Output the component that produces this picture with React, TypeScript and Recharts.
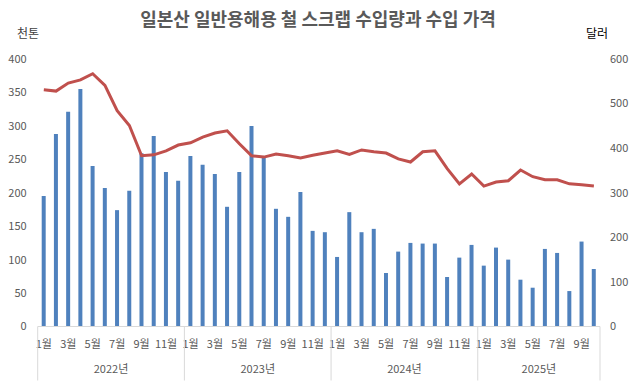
import { ComposedChart, Bar, Line, XAxis, YAxis } from 'recharts'

const years = [2022, 2023, 2024, 2025]
const monthsPerYear = [12, 12, 12, 10]

// 수입량 (천톤)
const volume = [
  195, 288, 321, 355, 240, 207, 174, 203, 259, 285, 231, 218,
  255, 242, 228, 179, 231, 300, 252, 176, 164, 201, 143, 141,
  104, 171, 141, 146, 80, 112, 125, 124, 124, 74, 103, 122,
  91, 118, 100, 70, 58, 116, 110, 53, 127, 86,
]

// 수입 가격 (달러)
const price = [
  531, 528, 546, 553, 567, 541, 484, 451, 383, 385, 394, 407,
  412, 425, 434, 439, 410, 383, 380, 387, 383, 378, 384, 389,
  394, 386, 396, 392, 389, 376, 369, 392, 394, 354, 320, 342,
  315, 324, 327, 351, 336, 329, 329, 320, 318, 315,
]

const leftTicks = [0, 50, 100, 150, 200, 250, 300, 350, 400]
const rightTicks = [0, 100, 200, 300, 400, 500, 600]

const data = years.flatMap((year, yi) =>
  Array.from({ length: monthsPerYear[yi] }, (_, m) => ({
    year,
    month: m + 1,
    yearLen: monthsPerYear[yi],
  }))
).map((d, i) => ({ ...d, key: `${d.year}-${d.month}`, volume: volume[i], price: price[i] }))

const FONT = '"Noto Sans CJK KR", "Noto Sans", sans-serif'
const GRAY = '#595959'
const LINE_GRAY = '#d9d9d9'
const PLOT_LEFT = 37.7
const PLOT_RIGHT = 600
const BAND = (PLOT_RIGHT - PLOT_LEFT) / data.length

function MonthTick(props: any) {
  const { x, y, payload } = props
  const i = payload.index ?? props.index
  const d = data[i]
  if (!d) return null
  const left = x - BAND / 2
  return (
    <g>
      {d.month % 2 === 1 && (
        <text x={x} y={y + 19} textAnchor="middle" dominantBaseline="middle"
          fontSize={11} fill={GRAY} fontFamily={FONT}>
          {d.month}월
        </text>
      )}
      {d.month === 1 && (
        <>
          <line x1={left} y1={y} x2={left} y2={y + 54} stroke={LINE_GRAY} />
          <text x={left + (d.yearLen * BAND) / 2} y={y + 44} textAnchor="middle"
            dominantBaseline="middle" fontSize={11} fill={GRAY} fontFamily={FONT}>
            {d.year}년
          </text>
        </>
      )}
      {i === data.length - 1 && (
        <line x1={x + BAND / 2} y1={y} x2={x + BAND / 2} y2={y + 54} stroke={LINE_GRAY} />
      )}
    </g>
  )
}

export default function App() {
  return (
    <div style={{ position: 'absolute', left: 0, top: 0, width: 640, height: 392, background: '#fff', fontFamily: FONT }}>
      <div style={{ position: 'absolute', left: 0, top: 5, width: 636, textAlign: 'center', fontSize: 18, fontWeight: 700, color: GRAY, lineHeight: '26px' }}>
        일본산 일반용해용 철 스크랩 수입량과 수입 가격
      </div>
      <div style={{ position: 'absolute', left: 17, top: 24, fontSize: 12, color: '#404040', lineHeight: '18px' }}>천톤</div>
      <div style={{ position: 'absolute', left: 586, top: 24, fontSize: 12, color: '#000', lineHeight: '18px' }}>달러</div>
      <ComposedChart width={640} height={392} data={data} barSize={4}
        margin={{ top: 59, right: 0, bottom: 0, left: 0 }}>
        <XAxis dataKey="key" xAxisId={0} interval={0} height={65.5} tickSize={0} tickMargin={0}
          axisLine={{ stroke: LINE_GRAY }} tickLine={false} tick={<MonthTick />} />
        <YAxis yAxisId="left" width={PLOT_LEFT} domain={[0, 400]} ticks={leftTicks}
          axisLine={false} tickLine={false} tickSize={0} tickMargin={11}
          tick={{ fontSize: 11, fill: GRAY, fontFamily: FONT }} />
        <YAxis yAxisId="right" orientation="right" width={640 - PLOT_RIGHT} domain={[0, 600]}
          ticks={rightTicks} axisLine={false} tickLine={false} tickSize={0} tickMargin={10}
          tick={{ fontSize: 11, fill: GRAY, fontFamily: FONT, textAnchor: 'start' }} />
        <Bar yAxisId="left" dataKey="volume" fill="#4F81BD" isAnimationActive={false} />
        <Line yAxisId="right" dataKey="price" type="linear" stroke="#C0504D" strokeWidth={3}
          dot={false} activeDot={false} isAnimationActive={false} />
      </ComposedChart>
    </div>
  )
}
